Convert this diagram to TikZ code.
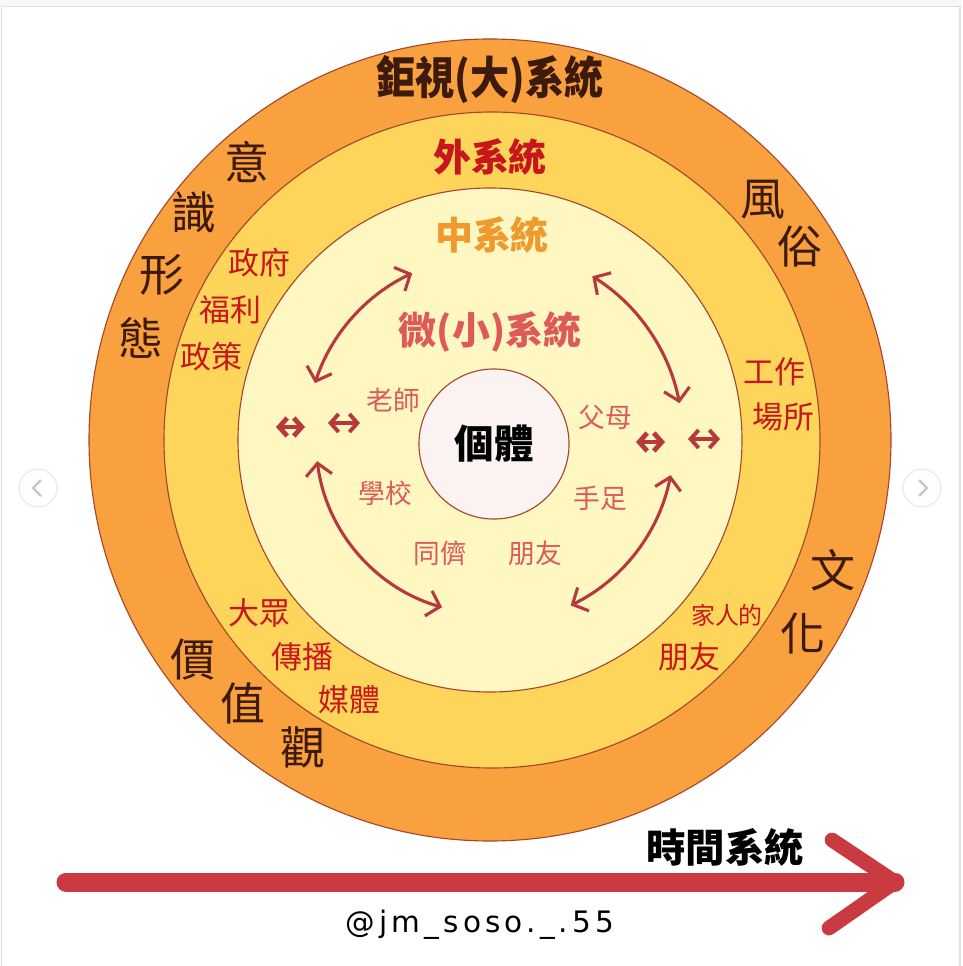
\documentclass[tikz,border=0pt]{standalone}
\usepackage{fontspec}
\usetikzlibrary{arrows.meta}
\newfontfamily\cjk{Noto Sans CJK TC}
\newfontfamily\cjkcond[FakeStretch=0.87]{Noto Sans CJK TC}
\newfontfamily\sigfont[LetterSpace=14]{DejaVu Sans}

\definecolor{ringouter}{HTML}{F8A13E}
\definecolor{ringmid}{HTML}{FDD55B}
\definecolor{ringin}{HTML}{FEF7C2}
\definecolor{corefill}{HTML}{FBF3F2}
\definecolor{ringline}{HTML}{A5472E}
\definecolor{brownink}{HTML}{3E1A0C}
\definecolor{redink}{HTML}{C8161D}
\definecolor{pinkink}{HTML}{DE5A58}
\definecolor{orangeink}{HTML}{EE9A2E}
\definecolor{arrowred}{HTML}{B8393D}
\definecolor{timered}{HTML}{C93A41}

\tikzset{
  ring/.style={draw=ringline, line width=0.8pt},
  hand/.style={font=\cjk\fontsize{32}{34}\selectfont, text=brownink, inner sep=0pt},
  outlabel/.style={font=\cjk\fontsize{22}{24}\selectfont, text=redink, inner sep=0pt},
  microlabel/.style={font=\cjk\fontsize{19}{21}\selectfont, text=pinkink, inner sep=0pt},
  linkarrow/.style={draw=arrowred, line width=2.2pt, line cap=round, <->, >={Straight Barb[length=3mm,width=6.5mm]}},
  tinyarrow/.style={draw=arrowred, line width=2.8pt, <->, >={Straight Barb[length=2mm,width=4.5mm]}},
  navbtn/.style={circle, draw=gray!15, line width=1pt, fill=white, minimum size=0.95cm, inner sep=0pt},
}

\begin{document}
\begin{tikzpicture}[x=0.025cm,y=0.025cm]
\useasboundingbox (0,0) rectangle (962,-966);
% frame of the screenshot
\fill[gray!6] (0,0) rectangle (962,-6.5);
\draw[gray!25, line width=1pt] (1.5,-966) -- (1.5,-6.5) -- (960,-6.5) -- (960,-966);

% rings
\coordinate (c) at (490,-440);
\filldraw[fill=ringouter, ring] (c) circle[radius=401];
\filldraw[fill=ringmid, ring] (492,-440) circle[radius=328];
\filldraw[fill=ringin, ring] (c) circle[radius=252];
\node[circle, fill=corefill, ring, minimum size=3.75cm, inner sep=0pt,
      font=\cjk\bfseries\fontsize{28}{30}\selectfont] (self) at (494,-444) {個體};

% system titles
\node[font=\cjkcond\bfseries\fontsize{32}{34}\selectfont, text=brownink] (macro) at (490,-80) {鉅視(大)系統};
\node[font=\cjk\bfseries\fontsize{27}{30}\selectfont, text=redink] (exo) at (490,-157) {外系統};
\node[font=\cjk\bfseries\fontsize{27}{30}\selectfont, text=orangeink] (meso) at (492,-235) {中系統};
\node[font=\cjk\bfseries\fontsize{27}{30}\selectfont, text=pinkink] (micro) at (490,-332) {微(小)系統};

% macro words
\node[hand] (ideo1) at (247,-162) {意};
\node[hand] (ideo2) at (194,-212) {識};
\node[hand] (ideo3) at (162,-275) {形};
\node[hand] (ideo4) at (141,-338) {態};
\node[hand] (custom1) at (763,-200) {風};
\node[hand] (custom2) at (800,-247) {俗};
\node[hand] (culture1) at (833,-570) {文};
\node[hand] (culture2) at (803,-633) {化};
\node[hand] (value1) at (193,-660) {價};
\node[hand] (value2) at (243,-703) {值};
\node[hand] (value3) at (303,-747) {觀};

% exo words
\node[outlabel] (gov1) at (259,-263) {政府};
\node[outlabel] (gov2) at (230,-310) {福利};
\node[outlabel] (gov3) at (211,-357) {政策};
\node[outlabel] (work1) at (774,-372) {工作};
\node[outlabel] (work2) at (783,-417) {場所};
\node[outlabel] (media1) at (259,-613) {大眾};
\node[outlabel] (media2) at (302,-657) {傳播};
\node[outlabel] (media3) at (349,-700) {媒體};
\node[outlabel, font=\cjk\fontsize{17}{19}\selectfont] (friend1) at (727,-615) {家人的};
\node[outlabel] (friend2) at (689,-657) {朋友};

% micro words
\node[microlabel] (teacher) at (393,-400) {老師};
\node[microlabel] (school) at (385,-493) {學校};
\node[microlabel] (peer) at (440,-553) {同儕};
\node[microlabel] (pal) at (535,-553) {朋友};
\node[microlabel] (parent) at (605,-417) {父母};
\node[microlabel] (sibling) at (600,-498) {手足};

% links between the micro systems
\coordinate (tl) at ([shift={(115:184)}]c);
\coordinate (tr) at ([shift={(58:193)}]c);
\coordinate (bl) at ([shift={(187:174)}]c);
\coordinate (br) at ([shift={(-11:184)}]c);
\draw[linkarrow] (tl) arc[start angle=115, end angle=162, radius=184];
\draw[linkarrow] (tr) arc[start angle=58, end angle=11, radius=193];
\draw[linkarrow] (bl) arc[start angle=187, end angle=254, radius=174];
\draw[linkarrow] (br) arc[start angle=-11, end angle=-64, radius=184];

\coordinate (la1) at (276,-427); \coordinate (la2) at (305,-427);
\coordinate (lb1) at (328,-423); \coordinate (lb2) at (360,-423);
\coordinate (ra1) at (636,-442); \coordinate (ra2) at (665,-442);
\coordinate (rb1) at (688,-439); \coordinate (rb2) at (720,-439);
\draw[tinyarrow, line width=3.4pt] (la1) -- (la2);
\draw[tinyarrow] (lb1) -- (lb2);
\draw[tinyarrow, line width=3.4pt] (ra1) -- (ra2);
\draw[tinyarrow] (rb1) -- (rb2);

% chrono system
\node[font=\cjk\bfseries\fontsize{28}{30}\selectfont] (chrono) at (725,-847) {時間系統};
\coordinate (tstart) at (66,-882);
\coordinate (tend) at (895,-882);
\draw[timered, line width=13.5pt, line cap=round] (tstart) -- (tend);
\draw[timered, line width=10.5pt, line cap=round, line join=round]
  (832,-840) -- (tend) -- (829,-928);

\node[font=\sigfont\fontsize{21}{23}\selectfont] (sig) at (480,-925) {@jm\_soso.\_.55};

% carousel buttons
\node[navbtn] (prevbtn) at (38,-488) {};
\node[navbtn] (nextbtn) at (922,-488) {};
\draw[gray!45, line width=1.6pt] (prevbtn.center) ++(3,8) -- ++(-8,-8) -- ++(8,-8);
\draw[gray!45, line width=1.6pt] (nextbtn.center) ++(-3,8) -- ++(8,-8) -- ++(-8,-8);
\end{tikzpicture}
\end{document}
